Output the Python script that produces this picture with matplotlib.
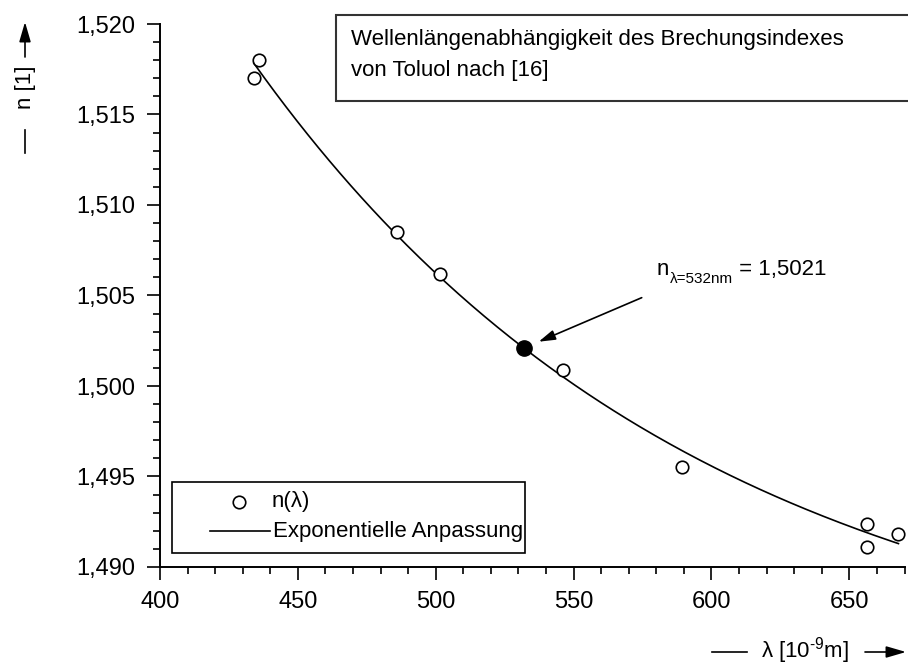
import numpy as np
import matplotlib
matplotlib.use("Agg")
import matplotlib.pyplot as plt
from matplotlib.patches import Rectangle, FancyArrowPatch
from matplotlib.lines import Line2D
from matplotlib.ticker import MultipleLocator, FuncFormatter

plt.rcParams["font.family"] = ["Liberation Sans", "DejaVu Sans"]
plt.rcParams["mathtext.fontset"] = "custom"
plt.rcParams["mathtext.rm"] = "Liberation Sans"
plt.rcParams["mathtext.it"] = "Liberation Sans:italic"
plt.rcParams["mathtext.default"] = "regular"

# Refractive index of toluene vs. wavelength
wavelength_nm = [434.0, 435.8, 486.1, 501.6, 546.1, 589.3, 656.3, 656.3, 667.8]
refr_index = [1.5170, 1.5180, 1.5085, 1.5062, 1.5009, 1.4955, 1.4924, 1.4911, 1.4918]

# Exponential fit n = y0 + A * exp(-lambda / t)
fit_y0 = 1.48299
fit_amp = 0.4995
fit_decay = 163.0
fit_range = (434.0, 667.8)

# Highlighted value at the laser wavelength
laser_nm = 532
laser_n = 1.5021

FS = 16
TICK_FS = 17
W, H = 908, 666

fig = plt.figure(figsize=(W / 100, H / 100), dpi=100)
ax = fig.add_axes([160 / W, 1 - 567 / H, 744.5 / W, 543 / H])

lam = np.linspace(*fit_range, 300)
ax.plot(lam, fit_y0 + fit_amp * np.exp(-lam / fit_decay), color="black", lw=1.2,
        zorder=2)
ax.plot(wavelength_nm, refr_index, "o", ms=9, mfc="white", mec="black", mew=1.2,
        ls="none", zorder=3)
ax.plot([laser_nm], [laser_n], "o", ms=11, color="black", zorder=4)

ax.set_xlim(400, 670)
ax.set_ylim(1.490, 1.520)
ax.xaxis.set_major_locator(MultipleLocator(50))
ax.xaxis.set_minor_locator(MultipleLocator(10))
ax.yaxis.set_major_locator(MultipleLocator(0.005))
ax.yaxis.set_minor_locator(MultipleLocator(0.001))
ax.yaxis.set_major_formatter(FuncFormatter(lambda v, p: f"{v:.3f}".replace(".", ",")))
ax.xaxis.set_major_formatter(FuncFormatter(lambda v, p: f"{v:.0f}"))
for s in ("top", "right"):
    ax.spines[s].set_visible(False)
for s in ("left", "bottom"):
    ax.spines[s].set_linewidth(1.4)
ax.tick_params(which="major", direction="out", length=9.5, width=1.2,
               labelsize=TICK_FS, pad=8)
ax.tick_params(which="minor", direction="out", length=5, width=1.2)

# annotation for the 532 nm value
ax.annotate("", xy=(laser_nm, laser_n), xytext=(574.7, 1.50488),
            arrowprops=dict(arrowstyle="-|>,head_length=1.0,head_width=0.3",
                            color="black", lw=1.2, shrinkA=0, shrinkB=11.5,
                            mutation_scale=10))
t_n = ax.text((657 - 160) / 744.5, (567 - 275) / 543, "n",
              transform=ax.transAxes, fontsize=FS, va="baseline", ha="left")
t_sub = ax.annotate(f"λ={laser_nm}nm", xy=(1, 0), xycoords=t_n,
                    xytext=(0.5, -2.5), textcoords="offset points",
                    fontsize=11, va="baseline", ha="left")
ax.annotate(" = " + f"{laser_n:.4f}".replace(".", ","), xy=(1, 0),
            xycoords=(t_sub, t_n), xytext=(0, 0), textcoords="offset points",
            fontsize=FS, va="bottom", ha="left")

# title box
def axfrac(px, py):
    return (px - 160) / 744.5, (567 - py) / 543

bx0, by0 = axfrac(336, 101)
bx1, by1 = axfrac(915, 15)
ax.add_patch(Rectangle((bx0, by0), bx1 - bx0, by1 - by0, transform=ax.transAxes,
                       fc="white", ec="#333333", lw=1.5, clip_on=False, zorder=5))
tx, ty = axfrac(351, 45)
ax.text(tx, ty, "Wellenlängenabhängigkeit des Brechungsindexes",
        transform=ax.transAxes, fontsize=FS, va="baseline", zorder=6)
tx, ty = axfrac(351, 76)
ax.text(tx, ty, "von Toluol nach [16]", transform=ax.transAxes, fontsize=FS,
        va="baseline", zorder=6)

# legend
lx0, ly0 = axfrac(171.7, 552.7)
lx1, ly1 = axfrac(525, 481.7)
ax.add_patch(Rectangle((lx0, ly0), lx1 - lx0, ly1 - ly0, transform=ax.transAxes,
                       fc="white", ec="black", lw=1.2, zorder=5))
mx, my = axfrac(239, 502)
ax.plot([mx], [my], "o", ms=9, mfc="white", mec="black", mew=1.2,
        transform=ax.transAxes, zorder=6, clip_on=False)
t1x, _ = axfrac(272, 0)
ax.text(t1x, my, "n(λ)", transform=ax.transAxes, fontsize=FS, va="center", zorder=6)
l0x, ly = axfrac(210, 531)
l1x, _ = axfrac(270, 531)
ax.plot([l0x, l1x], [ly, ly], color="black", lw=1.2, transform=ax.transAxes,
        zorder=6, clip_on=False)
t2x, _ = axfrac(273, 0)
ax.text(t2x, ly, "Exponentielle Anpassung", transform=ax.transAxes, fontsize=FS,
        va="center", zorder=6)

# axis labels with arrows
def ff(px, py):
    return px / W, 1 - py / H

fig.text(*ff(25, 87), "n [1]", rotation=90, fontsize=FS, ha="center", va="center")
fig.add_artist(Line2D(*zip(ff(25, 130), ff(25, 153)), color="black", lw=1.2))
fig.add_artist(FancyArrowPatch(ff(25, 57), ff(25, 22), transform=fig.transFigure,
                               arrowstyle="-|>,head_length=1.2,head_width=0.35",
                               mutation_scale=10, color="black", lw=1.2,
                               shrinkA=0, shrinkB=0))

fig.text(*ff(805, 651), "λ [10$^{\u2010 9}$m]", fontsize=FS, ha="center", va="center")
fig.add_artist(Line2D(*zip(ff(712, 652), ff(747, 652)), color="black", lw=1.2))
fig.add_artist(FancyArrowPatch(ff(865, 652), ff(906, 652), transform=fig.transFigure,
                               arrowstyle="-|>,head_length=1.2,head_width=0.35",
                               mutation_scale=10, color="black", lw=1.2,
                               shrinkA=0, shrinkB=0))

fig.savefig("out.png", dpi=100, facecolor="white")
